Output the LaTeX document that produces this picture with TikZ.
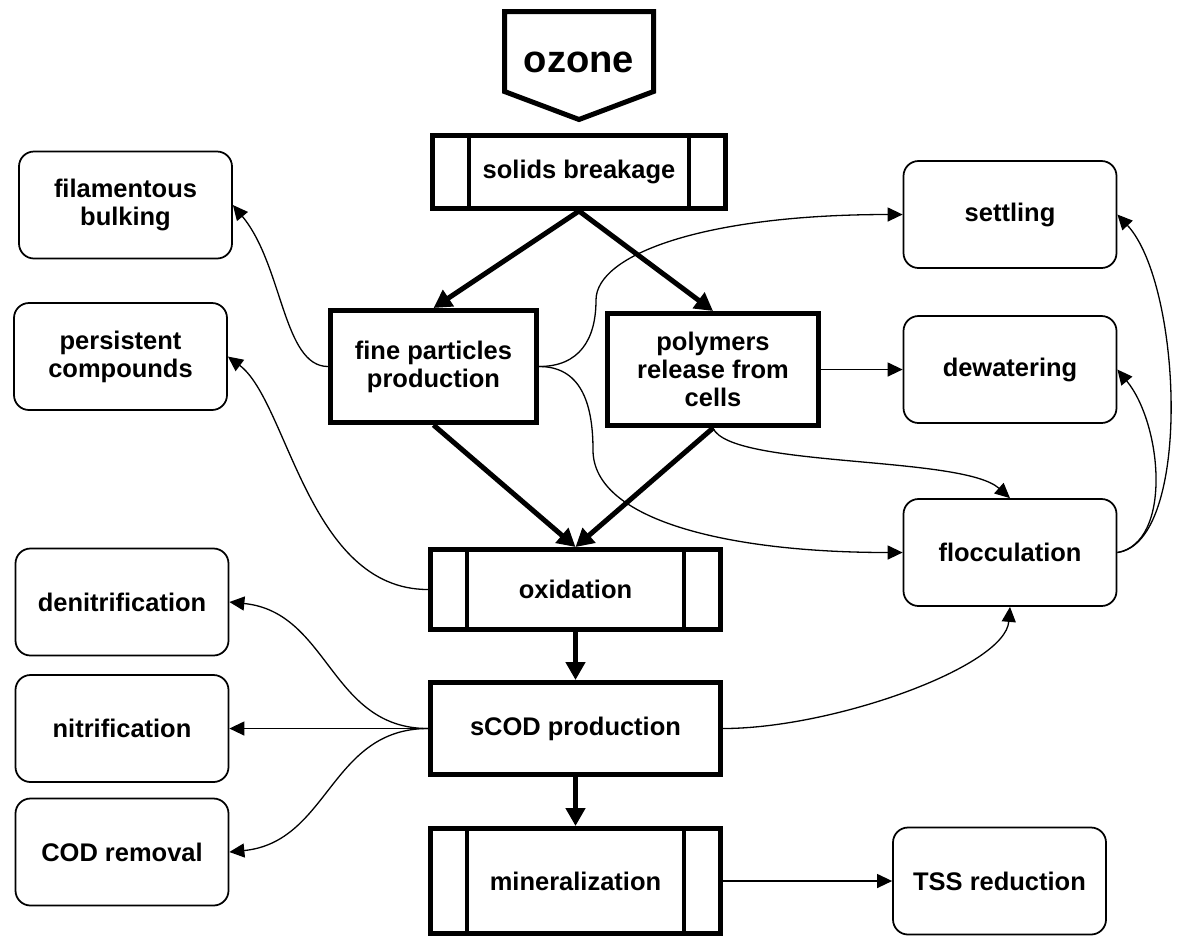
\documentclass[tikz,border=0pt]{standalone}
\usepackage{fontspec}
\setmainfont{Liberation Sans}
\usetikzlibrary{arrows.meta}
\usetikzlibrary{positioning}

\begin{document}
\begin{tikzpicture}[process/.style={draw, rectangle, line width=0.1cm, minimum width=5.8cm, inner sep=4pt, font=\fontsize{14.5}{16}\selectfont\bfseries},
			effect/.style={draw, rectangle, rounded corners=0.3cm, line width=0.035cm, minimum width=4.26cm, minimum height=2.14cm, inner sep=4pt, font=\fontsize{14.5}{16}\selectfont\bfseries},
			flow/.style={-{Triangle[length=0.36cm, width=0.38cm]}, line width=0.1cm},
			link/.style={-{Triangle[length=0.3cm, width=0.28cm]}, line width=0.026cm},
			every text node part/.style={align=center}]
			\useasboundingbox (0,0) rectangle (23.62,-18.72);
			
			% ozone input
			\draw[line width=0.1cm] (10.09,-0.23) -- (13.07,-0.23) -- (13.07,-1.83) -- (11.58,-2.39) -- (10.09,-1.83) -- cycle;
			\node[font=\fontsize{21.7}{24}\selectfont\bfseries](ozone) at (11.58, -1.24) {ozone};
			
			% main chain
			\node[process, minimum width=5.86cm, minimum height=1.46cm](solids) at (11.58, -3.44) {solids breakage};
			\node[process, minimum width=4.12cm, minimum height=2.24cm](fine) at (8.67, -7.33) {fine particles \\ production};
			\node[process, minimum width=4.22cm, minimum height=2.24cm](poly) at (14.26, -7.39) {polymers \\ release from \\ cells};
			\node[process, minimum height=1.60cm](oxid) at (11.51, -11.79) {oxidation};
			\node[process, minimum height=1.84cm](scod) at (11.51, -14.57) {sCOD production};
			\node[process, minimum height=2.10cm](miner) at (11.51, -17.62) {mineralization};
			
			\foreach \n in {solids, oxid, miner} {
				\draw[line width=0.08cm] ([xshift=0.78cm]\n.north west) -- ([xshift=0.78cm]\n.south west);
				\draw[line width=0.08cm] ([xshift=-0.78cm]\n.north east) -- ([xshift=-0.78cm]\n.south east);
			}
			
			% effects
			\node[effect](fil) at (2.51, -4.10) {filamentous \\ bulking};
			\node[effect](pers) at (2.41, -7.13) {persistent \\ compounds};
			\node[effect](settl) at (20.20, -4.29) {settling};
			\node[effect](dewat) at (20.20, -7.39) {dewatering};
			\node[effect](floc) at (20.20, -11.05) {flocculation};
			\node[effect](denit) at (2.44, -12.04) {denitrification};
			\node[effect](nitr) at (2.44, -14.57) {nitrification};
			\node[effect](codrem) at (2.44, -17.04) {COD removal};
			\node[effect](tss) at (19.99, -17.62) {TSS reduction};
			
			\draw[flow] (solids.south) -- (fine.north);
			\draw[flow] (solids.south) -- (poly.north);
			\draw[flow] (fine.south) -- (oxid.north);
			\draw[flow] (poly.south) -- (oxid.north);
			\draw[flow] (oxid.south) -- (scod.north);
			\draw[flow] (scod.south) -- (miner.north);
			
			\draw[link] (fine.west) .. controls +(-0.9,0) and +(1.0,-1.2) .. (fil.east);
			\draw[link] (oxid.west) .. controls +(-2.4,0) and +(1.2,-0.9) .. (pers.east);
			\draw[link] (fine.east) .. controls +(0.8,0) and +(0,-0.8) .. (11.92,-6.00) .. controls +(0,0.9) and +(-4,0) .. (settl.west);
			\draw[link] (fine.east) .. controls +(0.8,0) and +(0,1.0) .. (11.86,-9.00) .. controls +(0,-1.4) and +(-3.5,0) .. (floc.west);
			\draw[link] (poly.south) .. controls +(0.34,-0.80) and +(-0.96,0.86) .. (floc.north);
			\draw[link] (poly.east) -- (dewat.west);
			\draw[link] (floc.east) .. controls +(1.5,0.2) and +(1.3,-1.4) .. (settl.east);
			\draw[link] (floc.east) .. controls +(1.1,0.2) and +(0.9,-1.1) .. (dewat.east);
			
			\draw[link] (scod.west) .. controls +(-1.96,0) and +(2.0,-0.2) .. (denit.east);
			\draw[link] (scod.west) -- (nitr.east);
			\draw[link] (scod.west) .. controls +(-1.96,0) and +(2.0,0.2) .. (codrem.east);
			\draw[link] (scod.east) .. controls +(2.2,0) and +(-0.1,-1.2) .. (floc.south);
			\draw[link] (miner.east) -- (tss.west);
\end{tikzpicture}
\end{document}
